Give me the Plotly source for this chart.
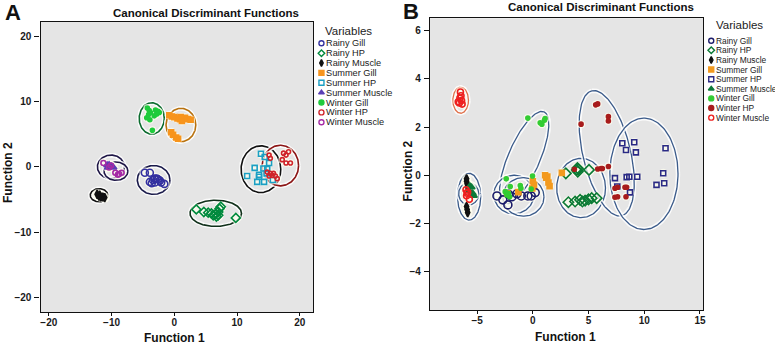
import numpy as np
import plotly.graph_objects as go

# ---------------- data ----------------
SERIES = ["Rainy Gill", "Rainy HP", "Rainy Muscle", "Summer Gill", "Summer HP",
          "Summer Muscle", "Winter Gill", "Winter HP", "Winter Muscle"]

A_X_TICKS = [-20, -10, 0, 10, 20]
A_Y_TICKS = [-20, -10, 0, 10, 20]
B_X_TICKS = [-5, 0, 5, 10, 15]
B_Y_TICKS = [-4, -2, 0, 2, 4, 6]

# Panel A (function 1, function 2)
A_RAINY_GILL_X = [-4.7, -3.9, -3.4, -3.1, -2.8, -2.6, -2.3, -3.1, -3.6, -2.1, -1.6, -3.9]
A_RAINY_GILL_Y = [-0.9, -0.9, -2.0, -1.8, -1.8, -1.9, -2.1, -2.4, -2.5, -2.4, -2.6, -2.3]
A_RAINY_HP_X = [3.5, 4.7, 5.4, 5.9, 6.2, 6.6, 7.0, 7.2, 7.4, 7.0, 6.7, 9.8]
A_RAINY_HP_Y = [-6.5, -6.9, -7.0, -7.1, -7.4, -7.2, -6.9, -6.4, -6.1, -7.4, -7.6, -7.8]
A_RAINY_MUSCLE_X = [-12.3, -12.0, -11.7, -11.4, -11.1, -11.9]
A_RAINY_MUSCLE_Y = [-4.2, -4.5, -4.6, -4.6, -4.7, -4.3]
A_SUMMER_GILL_X = [-0.8, -0.4, 0.0, 0.5, 0.9, 1.2, 1.7, 2.2, 2.6, 1.0, -0.5, -0.2, 0.3, 0.6]
A_SUMMER_GILL_Y = [7.9, 7.7, 7.6, 7.4, 7.3, 7.0, 7.5, 7.3, 7.2, 7.6, 5.3, 4.9, 4.5, 4.3]
A_SUMMER_HP_X = [13.8, 14.4, 12.8, 14.2, 15.1, 11.6, 13.5, 13.5, 14.7, 14.8, 13.2, 14.3, 15.7]
A_SUMMER_HP_Y = [2.0, 1.5, -0.15, -0.26, 0.6, -1.4, -1.2, -1.5, -1.0, -0.3, -2.3, -2.3, -2.0]
A_SUMMER_MUSCLE_X = [-10.7, -10.4, -10.05, -9.7, -10.6]
A_SUMMER_MUSCLE_Y = [0.26, 0.31, 0.1, -0.1, -0.1]
A_WINTER_GILL_X = [-4.3, -4.0, -3.8, -4.4, -3.9, -3.0, -2.6, -2.8, -2.4, -3.2, -3.5, -4.1]
A_WINTER_GILL_Y = [9.0, 8.6, 8.3, 7.5, 7.2, 8.7, 8.5, 8.1, 8.3, 7.8, 5.6, 8.0]
A_WINTER_HP_X = [15.1, 15.3, 17.4, 17.8, 18.2, 17.2, 17.8, 18.5, 14.8, 15.3, 15.6, 16.1, 16.4, 15.1, 15.8]
A_WINTER_HP_Y = [1.8, 1.3, 2.1, 1.8, 2.3, 1.1, 0.6, 0.6, -0.8, -1.0, -1.3, -1.4, -1.8, -1.4, -1.0]
A_WINTER_MUSCLE_X = [-11.3, -10.4, -9.4, -8.8, -8.4, -9.0, -10.1]
A_WINTER_MUSCLE_Y = [0.6, -0.1, -0.9, -1.1, -0.9, -1.2, 0.2]

# Panel B
B_RAINY_GILL_X = [-3.22, -2.69, -2.24, -1.88, -1.43, -1.04, -0.45, -0.15, 0.21, -2.18]
B_RAINY_GILL_Y = [-0.86, -1.02, -1.23, -0.89, -0.77, -0.86, -0.86, -0.86, -0.72, -0.79]
B_RAINY_HP_X = [2.96, 3.94, 4.03, 4.09, 5.04, 3.19, 3.79, 4.24, 4.45, 4.69, 4.99, 5.28, 5.73, 4.0]
B_RAINY_HP_Y = [0.08, 0.22, 0.15, 0.25, 0.22, -1.12, -1.09, -1.02, -1.09, -1.05, -1.0, -0.95, -0.95, 0.3]
B_RAINY_MUSCLE_X = [-5.95, -5.95, -5.9, -5.85, -5.8, -5.95, -5.9, -5.85]
B_RAINY_MUSCLE_Y = [-0.15, -0.25, -0.35, -0.45, -0.55, -1.3, -1.42, -1.55]
B_SUMMER_GILL_X = [1.1, 1.3, 1.2, 1.4, 1.5, 0.0, 0.1, -0.05, 2.6, -2.3, -1.3]
B_SUMMER_GILL_Y = [0.0, -0.05, -0.1, -0.3, -0.45, -0.25, -0.4, -0.55, 0.1, -0.75, -0.7]
B_SUMMER_HP_X = [8.03, 9.1, 8.36, 9.25, 11.91, 7.37, 8.42, 8.66, 9.37, 7.58, 8.72, 11.7, 11.1, 11.79]
B_SUMMER_HP_Y = [1.33, 1.37, 1.05, 0.95, 1.12, -0.12, -0.08, -0.06, -0.06, -0.47, -0.71, 0.08, -0.4, -0.33]
B_SUMMER_MUSCLE_X = [-5.65, -5.5, -5.7, -5.4, -5.55, -5.3]
B_SUMMER_MUSCLE_Y = [-0.45, -0.5, -0.65, -0.75, -0.8, -0.85]
B_WINTER_GILL_X = [-0.45, 0.66, 0.81, 1.04, 1.1, -2.39, -2.03, -1.13, -1.07, -0.03, -0.15, -2.48, -2.33, -2.18, -2.09]
B_WINTER_GILL_Y = [2.37, 2.18, 2.12, 2.28, 2.35, -0.15, -0.47, -0.43, -0.54, -0.03, -0.57, -0.68, -0.82, -0.75, -0.89]
B_WINTER_HP_X = [5.64, 5.82, 6.78, 6.78, 4.33, 5.82, 6.12, 6.24, 6.78, 7.37, 7.61, 8.27, 8.42, 7.37, 7.61, 8.36, 3.73]
B_WINTER_HP_Y = [2.92, 2.96, 2.43, 2.25, 2.12, 0.26, 0.28, 0.28, 0.36, -0.54, -0.5, -0.5, -0.5, -0.91, -0.89, -0.89, 0.25]
B_WINTER_MUSCLE_X = [-6.5, -6.45, -6.55, -6.4, -6.6, -6.35, -6.7, -6.0, -5.85, -5.95, -5.7, -5.9]
B_WINTER_MUSCLE_Y = [3.45, 3.3, 3.2, 3.1, 3.0, 2.95, 3.05, -0.6, -0.7, -0.85, -1.0, -0.75]

# ellipses: centre x, centre y, axis-1 vector (x, y), axis-2 vector (x, y)
A_ELLIPSES = [(-3.6, 7.4, 2.0, 0, 0, 2.4), (1.05, 6.4, 2.37, 0, 0, 2.55),
              (-10.1, 0.0, 2.16, 0, 0, 1.8), (-9.3, -0.66, 1.9, 0, 0, 1.4),
              (-12.0, -4.34, 1.4, 0, 0, 1.0), (-3.3, -2.0, 2.6, 0, 0, 2.2),
              (6.6, -7.1, 4.1, 0, 0, 2.0), (13.8, -0.36, 3.16, 0, 0, 3.57),
              (16.9, 0.2, 2.9, 0, 0, 3.1)]
B_ELLIPSES = [(-6.48, 3.11, 0.70, 0, 0, 0.54), (-5.72, -0.89, 1.04, 0, 0, 0.97),
              (-5.76, -0.77, 0.9, 0, 0, 0.46), (-0.78, 0.73, 1.78, 1.90, 1.31, -0.26),
              (-1.7, -0.8, 1.8, 0, 0, 0.8), (-0.85, -0.9, 1.85, 0, 0, 0.8),
              (4.33, -0.53, 2.19, 0, 0, 1.23), (6.63, 0.91, -1.34, 2.59, 2.08, 0.23),
              (9.97, 0.06, 3.06, 0, 0, 2.31)]

# ---------------- styles ----------------
A_COLORS = ["#3431a0", "#008a3e", "#111111", "#f7941d", "#1b9fc4",
            "#5a3fb5", "#1ecb3c", "#d0232a", "#a52aa5"]
B_COLORS = ["#1c1c6b", "#0b7a35", "#111111", "#f39a1f", "#2a2a85",
            "#0d7a3a", "#33cc33", "#a81c1c", "#ee2020"]
A_SYMBOLS = ["circle-open", "diamond-open", "diamond-tall", "square", "square-open",
             "triangle-up", "circle", "circle-open", "circle-open"]
B_SYMBOLS = ["circle-open", "diamond-open", "diamond-tall", "square", "square-open",
             "triangle-up", "circle", "circle", "circle-open"]
A_SIZES = [7, 7, 6, 5, 5, 6, 4, 4, 5]
B_SIZES = [8, 8, 6, 5, 5, 6, 4, 4, 6]
A_ELL_COLORS = ["#0b6b2e", "#b8720f", "#1f1747", "#1f1747", "#111111",
                "#1a1a4a", "#10301a", "#111111", "#8b1515"]
B_ELL_COLORS = ["#e0704a"] + ["#3b5b8a"] * 8

A_DATA = [(A_RAINY_GILL_X, A_RAINY_GILL_Y), (A_RAINY_HP_X, A_RAINY_HP_Y),
          (A_RAINY_MUSCLE_X, A_RAINY_MUSCLE_Y), (A_SUMMER_GILL_X, A_SUMMER_GILL_Y),
          (A_SUMMER_HP_X, A_SUMMER_HP_Y), (A_SUMMER_MUSCLE_X, A_SUMMER_MUSCLE_Y),
          (A_WINTER_GILL_X, A_WINTER_GILL_Y), (A_WINTER_HP_X, A_WINTER_HP_Y),
          (A_WINTER_MUSCLE_X, A_WINTER_MUSCLE_Y)]
B_DATA = [(B_RAINY_GILL_X, B_RAINY_GILL_Y), (B_RAINY_HP_X, B_RAINY_HP_Y),
          (B_RAINY_MUSCLE_X, B_RAINY_MUSCLE_Y), (B_SUMMER_GILL_X, B_SUMMER_GILL_Y),
          (B_SUMMER_HP_X, B_SUMMER_HP_Y), (B_SUMMER_MUSCLE_X, B_SUMMER_MUSCLE_Y),
          (B_WINTER_GILL_X, B_WINTER_GILL_Y), (B_WINTER_HP_X, B_WINTER_HP_Y),
          (B_WINTER_MUSCLE_X, B_WINTER_MUSCLE_Y)]

W, H = 775, 345
FONT = "Liberation Sans, Arial, sans-serif"
NARROW = "Liberation Sans Narrow, Arial Narrow, Liberation Sans, sans-serif"


def px(x):
    return x / W


def py(y):
    return 1 - y / H


def ellipse(cx, cy, ux, uy, vx, vy, n=160):
    t = np.linspace(0, 2 * np.pi, n)
    return cx + ux * np.cos(t) + vx * np.sin(t), cy + uy * np.cos(t) + vy * np.sin(t)


fig = go.Figure()


def add_panel(data, ells, ell_colors, colors, symbols, sizes, xa, ya, ell_w):
    for e, c in zip(ells, ell_colors):
        ex, ey = ellipse(*e)
        fig.add_trace(go.Scatter(x=ex, y=ey, mode="lines", xaxis=xa, yaxis=ya,
                                 line=dict(color="rgba(255,255,255,0.85)", width=4.5),
                                 hoverinfo="skip", showlegend=False))
        fig.add_trace(go.Scatter(x=ex, y=ey, mode="lines", xaxis=xa, yaxis=ya,
                                 line=dict(color=c, width=ell_w),
                                 hoverinfo="skip", showlegend=False))
    for (x, y), s in zip(data, sizes):
        fig.add_trace(go.Scatter(x=x, y=y, mode="markers", xaxis=xa, yaxis=ya,
                                 marker=dict(color="rgba(255,255,240,0.7)", size=s + 4,
                                             symbol="circle"),
                                 hoverinfo="skip", showlegend=False))
    for name, (x, y), c, sym, s in zip(SERIES, data, colors, symbols, sizes):
        fig.add_trace(go.Scatter(x=x, y=y, mode="markers", name=name, xaxis=xa, yaxis=ya,
                                 marker=dict(color=c, size=s, symbol=sym,
                                             line=dict(color=c, width=1.6)),
                                 showlegend=False))


add_panel(A_DATA, A_ELLIPSES, A_ELL_COLORS, A_COLORS, A_SYMBOLS, A_SIZES, "x", "y", 1.6)
add_panel(B_DATA, B_ELLIPSES, B_ELL_COLORS, B_COLORS, B_SYMBOLS, B_SIZES, "x2", "y2", 1.3)

# custom legends drawn on a pixel overlay axis
LEG = [  # marker x, text x, first row y, row step, title x, title y, colours, symbols, font size
    (322.7, 327.0, 43.3, 9.87, 350, 31, A_COLORS, A_SYMBOLS, 9.2),
    (714.0, 718.3, 40.7, 9.62, 742.7, 25, B_COLORS, B_SYMBOLS, 8.4),
]
annotations = []
for mx, tx, y0, dy, ttx, tty, cols, syms, fs in LEG:
    ys = [y0 + i * dy for i in range(len(SERIES))]
    for i, (name, c, sym) in enumerate(zip(SERIES, cols, syms)):
        fig.add_trace(go.Scatter(x=[mx], y=[ys[i]], mode="markers", xaxis="x3", yaxis="y3",
                                 marker=dict(color=c, size=5, symbol=sym,
                                             line=dict(color=c, width=1.4)),
                                 hoverinfo="skip", showlegend=False))
        annotations.append(dict(x=px(tx), y=py(ys[i]), xref="paper", yref="paper",
                                text=name, showarrow=False, xanchor="left", yanchor="middle",
                                borderpad=0, borderwidth=0,
                                font=dict(family=NARROW, size=fs, color="#222")))
    annotations.append(dict(x=px(ttx), y=py(tty), xref="paper", yref="paper",
                            text="Variables", showarrow=False, xanchor="center",
                            yanchor="middle", font=dict(family=NARROW, size=11.5, color="#222")))

TEXTS = [  # text, x, y, size, angle
    ("A", 13, 12.5, 22, 0), ("B", 413, 11.5, 22, 0),
    ("Canonical Discriminant Functions", 207, 12.5, 11.5, 0),
    ("Canonical Discriminant Functions", 603, 7.5, 11.5, 0),
    ("Function 1", 175, 338, 12, 0), ("Function 1", 568, 337, 12, 0),
    ("Function 2", 8, 172, 12, -90), ("Function 2", 410, 171, 12, -90),
]
for t, x, y, s, ang in TEXTS:
    annotations.append(dict(x=px(x), y=py(y), xref="paper", yref="paper",
                            text=f"<b>{t}</b>", showarrow=False,
                            xanchor="center", yanchor="middle", textangle=ang,
                            font=dict(family=FONT, size=s, color="#111")))

axis_common = dict(showgrid=False, zeroline=False, showline=True, linecolor="#111",
                   linewidth=1.3, mirror=True, ticks="outside", tickwidth=1,
                   tickcolor="#111",
                   tickfont=dict(family=NARROW, size=10, color="#1a1a1a", weight="bold"))
x_extra = dict(ticklen=3, ticklabelstandoff=-2)
y_extra = dict(ticklen=5, ticklabelstandoff=1)

fig.update_layout(
    width=W, height=H, margin=dict(l=0, r=0, t=0, b=0),
    paper_bgcolor="white", plot_bgcolor="rgba(0,0,0,0)",
    xaxis=dict(domain=[px(40.7), px(314.3)], range=[-21.32, 22.11], tickvals=A_X_TICKS,
               anchor="y", **axis_common, **x_extra),
    yaxis=dict(domain=[py(312.3), py(21.7)], range=[-22.23, 22.19], tickvals=A_Y_TICKS,
               anchor="x", **axis_common, **y_extra),
    xaxis2=dict(domain=[px(431.7), px(705.7)], range=[-9.23, 15.27], tickvals=B_X_TICKS,
                anchor="y2", **axis_common, **x_extra),
    yaxis2=dict(domain=[py(310), py(18.3)], range=[-5.59, 6.51], tickvals=B_Y_TICKS,
                anchor="x2", **axis_common, **y_extra),
    xaxis3=dict(domain=[0, 1], range=[0, W], visible=False, fixedrange=True, anchor="y3"),
    yaxis3=dict(domain=[0, 1], range=[H, 0], visible=False, fixedrange=True, anchor="x3"),
    annotations=annotations,
    shapes=[dict(type="rect", xref="x domain", yref="y domain", x0=0, x1=1, y0=0, y1=1,
                 fillcolor="#e5e5e5", line=dict(width=0), layer="below"),
            dict(type="rect", xref="x2 domain", yref="y2 domain", x0=0, x1=1, y0=0, y1=1,
                 fillcolor="#e5e5e5", line=dict(width=0), layer="below")],
    showlegend=False,
)

fig.write_html("out.html", config={"displayModeBar": False},
               post_script="document.body.style.margin='0px';document.body.style.overflow='hidden';")
